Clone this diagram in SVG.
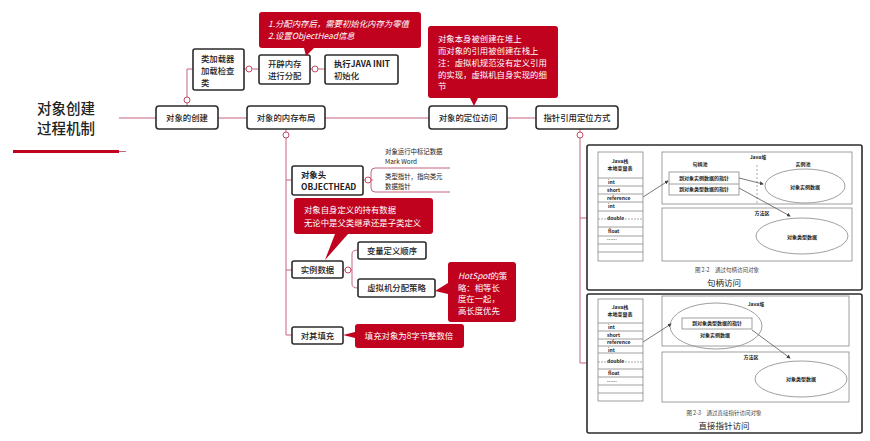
<svg xmlns="http://www.w3.org/2000/svg" width="870" height="441" viewBox="0 0 870 441">
<defs>
<style>
text{font-family:"Noto Sans CJK SC","Noto Sans",sans-serif;fill:#222}
.n{fill:#fff;stroke:#2b2b2b;stroke-width:1.6}
.t{font-size:8.4px;font-weight:500}
.r{fill:#c0021f}
.w{fill:#fff;font-size:8.4px}
.c{fill:none;stroke:#c4677d;stroke-width:1}
.o{fill:#fff;stroke:#c4485f;stroke-width:1}
.p{fill:#fff;stroke:#2b2b2b;stroke-width:1.6}
.g{fill:none;stroke:#888;stroke-width:.8}
.s{font-size:5px;font-family:"Noto Sans CJK SC",serif;font-weight:700}
.a{fill:none;stroke:#555;stroke-width:.8;marker-end:url(#h)}
.m{text-anchor:middle}
</style>
<marker id="h" markerWidth="5" markerHeight="5" refX="4" refY="2.5" orient="auto"><path d="M0 0L5 2.5L0 5z" fill="#444"/></marker>
</defs>
<g id="connectors">
<path class="c" d="M119 118H156M218 118H247M325 118H429M507 118H536"/>
<path class="c" d="M187 106V69H193"/>
<path class="c" d="M244 69H259M310 69H325"/>
<path class="c" d="M286 129V335H292M286 180H292M286 270H292"/>
<path class="c" d="M580 129V363H587M580 218H587"/>
<path class="c" d="M363 180H373"/>
<path class="c" d="M371 180V172Q371 168 375 168H450M371 180V188Q371 192 375 192H450"/>
<path class="c" d="M343 270H352M352 270V254Q352 250 358 250M352 270V284Q352 288 358 288"/>
<path d="M119 151.500H126" stroke="#c4677d" stroke-width="1"/>
<circle class="o" cx="187" cy="100" r="3"/>
<circle class="o" cx="249" cy="69" r="3"/>
<circle class="o" cx="315" cy="69" r="3"/>
<circle class="o" cx="286" cy="135" r="3"/>
<circle class="o" cx="580" cy="135" r="3"/>
<circle class="o" cx="368" cy="180" r="3"/>
<circle class="o" cx="348" cy="270" r="3"/>
</g>
<g id="title">
<text x="37" y="114" font-size="14.500" font-weight="500">对象创建</text>
<text x="37" y="134" font-size="14.500" font-weight="500">过程机制</text>
<rect x="13" y="150" width="106" height="3" fill="#c0021f"/>
</g>
<g id="n-create"><rect class="n" x="156" y="106" width="62" height="23" rx="3"/><text class="t m" x="187" y="121">对象的创建</text></g>
<g id="n-loader"><rect class="n" x="193" y="49" width="51" height="41" rx="2"/><text class="t" x="201" y="62">类加载器</text><text class="t" x="201" y="74">加载检查</text><text class="t" x="201" y="86">类</text></g>
<g id="n-alloc"><rect class="n" x="259" y="55" width="51" height="29" rx="2"/><text class="t" x="268" y="67">开辟内存</text><text class="t" x="268" y="79">进行分配</text></g>
<g id="n-init"><rect class="n" x="325" y="55" width="73" height="29" rx="2"/><text class="t" x="334" y="67" style="font-weight:700">执行JAVA INIT</text><text class="t" x="334" y="79">初始化</text></g>
<g id="n-layout"><rect class="n" x="247" y="106" width="78" height="23" rx="3"/><text class="t m" x="286" y="121">对象的内存布局</text></g>
<g id="n-access"><rect class="n" x="429" y="106" width="78" height="23" rx="3"/><text class="t m" x="468" y="121">对象的定位访问</text></g>
<g id="n-pointer"><rect class="n" x="536" y="106" width="82" height="23" rx="3"/><text class="t m" x="577" y="121">指针引用定位方式</text></g>
<g id="c-alloc"><path class="r" d="M262 12H418Q421 12 421 15V45Q421 48 418 48H314L306 56L304 48H262Q259 48 259 45V15Q259 12 262 12Z"/><text class="w" x="268" y="27" font-style="italic">1.分配内存后，需要初始化内存为零值</text><text class="w" x="268" y="39" font-style="italic">2.设置ObjectHead信息</text></g>
<g id="c-access"><path class="r" d="M431 26H555Q558 26 558 29V95Q558 98 555 98H478L474 106L470 98H431Q428 98 428 95V29Q428 26 431 26Z"/><text class="w" x="438" y="42">对象本身被创建在堆上</text><text class="w" x="438" y="54">而对象的引用被创建在栈上</text><text class="w" x="438" y="66">注：虚拟机规范没有定义引用</text><text class="w" x="438" y="78">的实现，虚拟机自身实现的细</text><text class="w" x="438" y="89">节</text></g>
<g id="n-header"><rect class="n" x="292" y="166" width="71" height="29" rx="2"/><text class="t" x="301" y="178" style="font-weight:700">对象头</text><text class="t" x="301" y="190" style="font-weight:700">OBJECTHEAD</text></g>
<g id="l-header"><text x="385" y="154" font-size="6.400">对象运行中标记数据</text><text x="385" y="164" font-size="6.400">Mark Word</text><text x="385" y="179" font-size="6.400">类型指针，指向类元</text><text x="385" y="188.500" font-size="6.400">数据指针</text></g>
<g id="c-data"><path class="r" d="M297 198H430Q433 198 433 201V231Q433 234 430 234H348L325 260L335 234H297Q294 234 294 231V201Q294 198 297 198Z"/><text class="w" x="304" y="213">对象自身定义的持有数据</text><text class="w" x="304" y="226">无论中是父类继承还是子类定义</text></g>
<g id="n-data"><rect class="n" x="292" y="261" width="51" height="17" rx="2"/><text class="t m" x="317.500" y="273">实例数据</text></g>
<g id="n-order"><rect class="n" x="358" y="242" width="68" height="17" rx="2"/><text class="t m" x="392" y="254">变量定义顺序</text></g>
<g id="n-strategy"><rect class="n" x="358" y="279" width="77" height="18" rx="2"/><text class="t m" x="396.500" y="291">虚拟机分配策略</text></g>
<g id="c-strategy"><path class="r" d="M451 262H513Q516 262 516 265V319Q516 322 513 322H451Q448 322 448 319V294L435 291L448 283V265Q448 262 451 262Z"/><text class="w" x="458" y="279"><tspan font-style="italic">HotSpot</tspan>的策</text><text class="w" x="458" y="291">略：相等长</text><text class="w" x="458" y="302">度在一起，</text><text class="w" x="458" y="314">高长度优先</text></g>
<g id="n-pad"><rect class="n" x="292" y="327" width="51" height="17" rx="2"/><text class="t m" x="317.500" y="339">对其填充</text></g>
<g id="c-pad"><path class="r" d="M358 324H461Q464 324 464 327V345Q464 348 461 348H358Q355 348 355 345V338L343 335L355 332V327Q355 324 358 324Z"/><text class="w m" x="409" y="339">填充对象为8字节整数倍</text></g>
<g id="panel-handle">
<rect class="p" x="587" y="145" width="275" height="145" rx="2"/>
<rect class="g" x="598" y="152" width="45" height="109"/>
<path class="g" d="M598 178H643M598 186H643M598 194H643M598 202H643M598 211H643M598 227H643M598 236H643M598 244H643M598 252H643"/>
<text class="s m" x="620" y="163">Java栈</text><text class="s m" x="620" y="170">本地变量表</text>
<text class="s" x="608" y="184">int</text><text class="s" x="607" y="192">short</text><text class="s" x="607" y="200">reference</text><text class="s" x="608" y="208">int</text><text class="s" x="607" y="220">double</text><text class="s" x="608" y="233">float</text><text class="s" x="607" y="241">……</text>
<path d="M598 219H643" stroke="#888" stroke-width=".7" stroke-dasharray="2 1"/>
<rect class="g" x="662" y="152" width="190" height="52"/>
<rect class="g" x="662" y="208" width="190" height="53"/>
<path d="M757 165V203" stroke="#888" stroke-width=".7" stroke-dasharray="2 2"/>
<text class="s m" x="758" y="159">Java堆</text><text class="s m" x="700" y="166">句柄池</text><text class="s m" x="803" y="166">实例池</text><text class="s m" x="762" y="215">方法区</text>
<rect class="g" x="669" y="172" width="70" height="23"/><path class="g" d="M669 184H739"/>
<text class="s m" x="704" y="180">到对象实例数据的指针</text><text class="s m" x="704" y="191">到对象类型数据的指针</text>
<ellipse class="g" cx="805" cy="186" rx="40" ry="17"/><ellipse class="g" cx="802" cy="236" rx="46" ry="18"/>
<text class="s m" x="805" y="189">对象实例数据</text><text class="s m" x="802" y="239">对象类型数据</text>
<path class="a" d="M643 197L668 181"/><path class="a" d="M739 178L763 184"/><path class="a" d="M739 188L790 216"/>
<text x="727" y="272" font-size="5.500" class="m" style="fill:#444">图 2-2　通过句柄访问对象</text>
<text x="724" y="286" font-size="8.500" class="m">句柄访问</text>
</g>
<g id="panel-direct">
<rect class="p" x="587" y="294" width="275" height="139" rx="2"/>
<rect class="g" x="598" y="299" width="45" height="102"/>
<path class="g" d="M598 323H643M598 331H643M598 339H643M598 346H643M598 353H643M598 369H643M598 377H643M598 385H643M598 393H643"/>
<text class="s m" x="620" y="309">Java栈</text><text class="s m" x="620" y="316">本地变量表</text>
<text class="s" x="608" y="329">int</text><text class="s" x="607" y="337">short</text><text class="s" x="607" y="344">reference</text><text class="s" x="608" y="352">int</text><text class="s" x="607" y="363">double</text><text class="s" x="608" y="375">float</text><text class="s" x="607" y="383">……</text>
<path d="M598 362H643" stroke="#888" stroke-width=".7" stroke-dasharray="2 1"/>
<rect class="g" x="662" y="296" width="187" height="50"/>
<rect class="g" x="662" y="352" width="187" height="50"/>
<text class="s m" x="756" y="306">Java堆</text><text class="s m" x="751" y="359">方法区</text>
<ellipse class="g" cx="716" cy="326" rx="46" ry="23"/>
<rect class="g" x="682" y="318" width="70" height="11"/>
<text class="s m" x="717" y="325">到对象类型数据的指针</text><text class="s m" x="715" y="337">对象实例数据</text>
<ellipse class="g" cx="801" cy="379" rx="46" ry="18"/><text class="s m" x="801" y="381">对象类型数据</text>
<path class="a" d="M643 342L671 324"/><path class="a" d="M752 330L790 358"/>
<text x="724" y="415" font-size="5.500" class="m" style="fill:#444">图 2-3　通过直接指针访问对象</text>
<text x="724" y="429" font-size="8.500" class="m">直接指针访问</text>
</g>
</svg>
